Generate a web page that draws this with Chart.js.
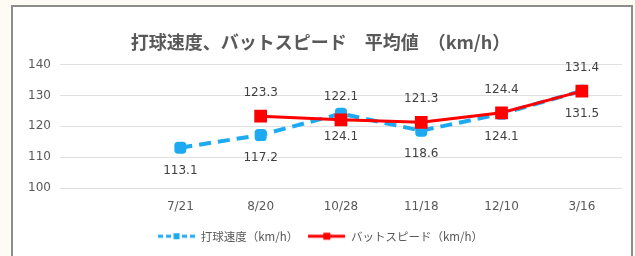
<!DOCTYPE html>
<html>
<head>
<meta charset="utf-8">
<script src="https://cdn.jsdelivr.net/npm/chart.js@4"></script>
<style>
  html, body { margin: 0; padding: 0; }
  body { width: 635px; height: 256px; background: #fdfbf3; position: relative; overflow: hidden; }
  #frame { position: absolute; left: 11px; top: 5px; width: 618px; height: 260px; border: 2px solid #8c8c8c; background: #fff; }
  #wrap { position: absolute; left: 0; top: 0; width: 618px; height: 249px; }
</style>
</head>
<body>
<div id="frame"><div id="wrap"><canvas id="c"></canvas></div></div>
<script>
// data
var dates = ["7/21", "8/20", "10/28", "11/18", "12/10", "3/16"];
var ballSpeed = [113.1, 117.2, 124.1, 118.6, 124.1, 131.5];
var batSpeed = [null, 123.3, 122.1, 121.3, 124.4, 131.4];
var yTicks = [100, 110, 120, 130, 140];

var blue = "#1eaaf0";
var red = "#ff0000";
var font = "'Noto Sans CJK JP', 'Noto Sans', sans-serif";
var numFont = "'DejaVu Sans', sans-serif";

function toPoints(arr) {
  return arr.map(function (v, i) { return { x: i, y: v }; });
}

// legend icon: line with marker, like the office chart legend
function legendIcon(color, dashed, size) {
  var cv = document.createElement("canvas");
  cv.width = 37; cv.height = 12;
  var g = cv.getContext("2d");
  g.strokeStyle = color;
  g.lineWidth = 3;
  if (dashed) g.setLineDash([5, 3]);
  g.beginPath(); g.moveTo(0, 6); g.lineTo(37, 6); g.stroke();
  g.fillStyle = color;
  g.fillRect(18.5 - size / 2, 6 - size / 2, size, size);
  return cv;
}
var icons = [legendIcon(blue, true, 6), legendIcon(red, false, 7)];

var valueLabels = {
  id: "valueLabels",
  afterDatasetsDraw: function (chart) {
    var ctx = chart.ctx;
    ctx.save();
    ctx.font = "12px " + numFont;
    ctx.fillStyle = "#404040";
    ctx.textAlign = "center";
    ctx.textBaseline = "middle";
    chart.data.datasets.forEach(function (ds, i) {
      var meta = chart.getDatasetMeta(i);
      meta.data.forEach(function (pt, j) {
        var d = ds.data[j];
        if (d.y == null) return;
        var dy = i === 0 ? 23 : -23;
        ctx.fillText(d.y.toFixed(1), pt.x, pt.y + dy);
      });
    });
    ctx.restore();
  }
};

new Chart(document.getElementById("c"), {
  type: "line",
  data: {
    datasets: [
      {
        label: "打球速度（km/h）",
        data: toPoints(ballSpeed),
        order: 2,
        borderColor: blue,
        backgroundColor: blue,
        borderWidth: 4,
        borderDash: [12, 7],
        pointStyle: "rectRounded",
        pointRadius: 7,
        pointBorderWidth: 0,
        tension: 0
      },
      {
        label: "バットスピード（km/h）",
        data: toPoints(batSpeed),
        order: 1,
        borderColor: red,
        backgroundColor: red,
        borderWidth: 3,
        pointStyle: "rect",
        pointRadius: 9,
        pointBorderWidth: 0,
        tension: 0
      }
    ]
  },
  options: {
    responsive: true,
    maintainAspectRatio: false,
    animation: false,
    layout: { padding: { left: 6, right: 9, top: 0, bottom: 4 } },
    plugins: {
      title: {
        display: true,
        text: "打球速度、バットスピード　平均値　（km/h）",
        color: "#595959",
        font: { family: font, size: 18, weight: "bold" },
        padding: { top: 24, bottom: 12 }
      },
      legend: {
        position: "bottom",
        labels: {
          usePointStyle: true,
          pointStyleWidth: 37,
          color: "#595959",
          font: { family: font, size: 11.5 },
          padding: 10,
          generateLabels: function (chart) {
            var items = Chart.defaults.plugins.legend.labels.generateLabels(chart);
            items.forEach(function (it) { it.pointStyle = icons[it.datasetIndex]; });
            return items;
          },
          sort: function (a, b) { return a.datasetIndex - b.datasetIndex; }
        }
      },
      tooltip: { enabled: false }
    },
    scales: {
      x: {
        type: "linear",
        min: -1.5,
        max: 5.5,
        grid: { display: false },
        border: { display: false },
        afterBuildTicks: function (axis) {
          axis.ticks = dates.map(function (d, i) { return { value: i }; });
        },
        afterFit: function (axis) { axis.height += 2; },
        ticks: {
          color: "#595959",
          font: { family: numFont, size: 12 },
          padding: 4,
          callback: function (v) { return dates[v]; }
        }
      },
      y: {
        min: yTicks[0],
        max: yTicks[yTicks.length - 1],
        afterBuildTicks: function (axis) {
          axis.ticks = yTicks.map(function (v) { return { value: v }; });
        },
        grid: { color: "#e0e0e0", lineWidth: 1, drawTicks: false },
        border: { display: false },
        ticks: {
          color: "#595959",
          font: { family: numFont, size: 12 },
          padding: 9
        }
      }
    }
  },
  plugins: [valueLabels]
});
</script>
</body>
</html>
